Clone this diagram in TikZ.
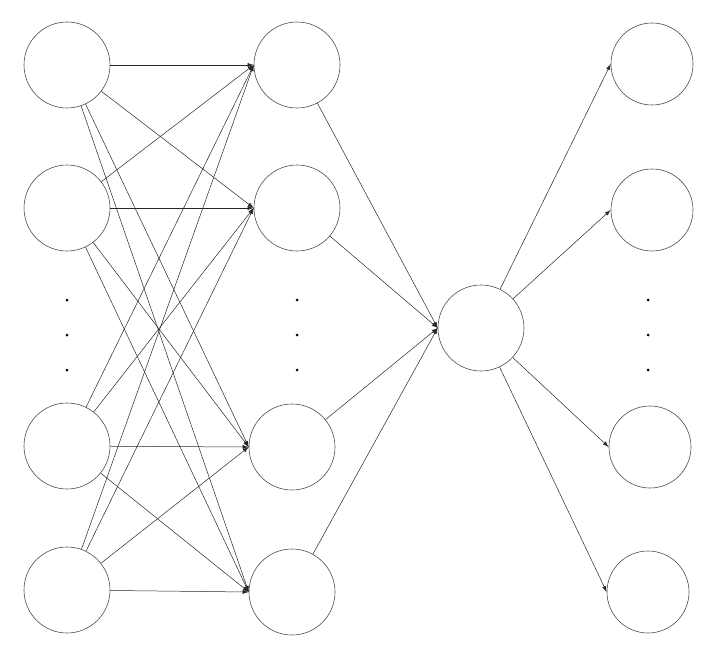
\documentclass[tikz,border=0pt]{standalone}
\usetikzlibrary{arrows.meta}
\begin{document}
\begin{tikzpicture}[x=1pt,y=-1pt,
  neuron/.style={circle,draw=black!70,line width=0.6pt,minimum size=86pt,inner sep=0pt},
  conn/.style={-{Latex[length=6pt,width=4pt]},line width=0.5pt,draw=black!85},
  dotm/.style={circle,fill=black,inner sep=0pt,minimum size=3pt}]
\useasboundingbox (0,0) rectangle (712,650);
\node[neuron] (a1) at (67,65) {};
\node[neuron] (a2) at (67,208) {};
\node[neuron] (a3) at (67,446) {};
\node[neuron] (a4) at (67,590) {};
\node[neuron] (b1) at (297,65) {};
\node[neuron] (b2) at (297,208) {};
\node[neuron] (b3) at (292,447) {};
\node[neuron] (b4) at (292,592) {};
\node[neuron] (m) at (481,328) {};
\node[neuron,minimum size=82pt] (c1) at (652,64) {};
\node[neuron,minimum size=82pt] (c2) at (652,210) {};
\node[neuron,minimum size=82pt] (c3) at (650,447) {};
\node[neuron,minimum size=82pt] (c4) at (648,592) {};
\foreach \i in {1,...,4}{\foreach \j in {1,...,4}{\draw[conn] (a\i) -- (b\j.west);}}
\foreach \j in {1,...,4}{\draw[conn] (b\j) -- (m.west);}
\foreach \j in {1,...,4}{\draw[conn] (m) -- (c\j.west);}
\foreach \x in {67,297,648}{\foreach \y in {300,335,370}{\node[dotm] (d\x\y) at (\x,\y) {};}}
\end{tikzpicture}
\end{document}
